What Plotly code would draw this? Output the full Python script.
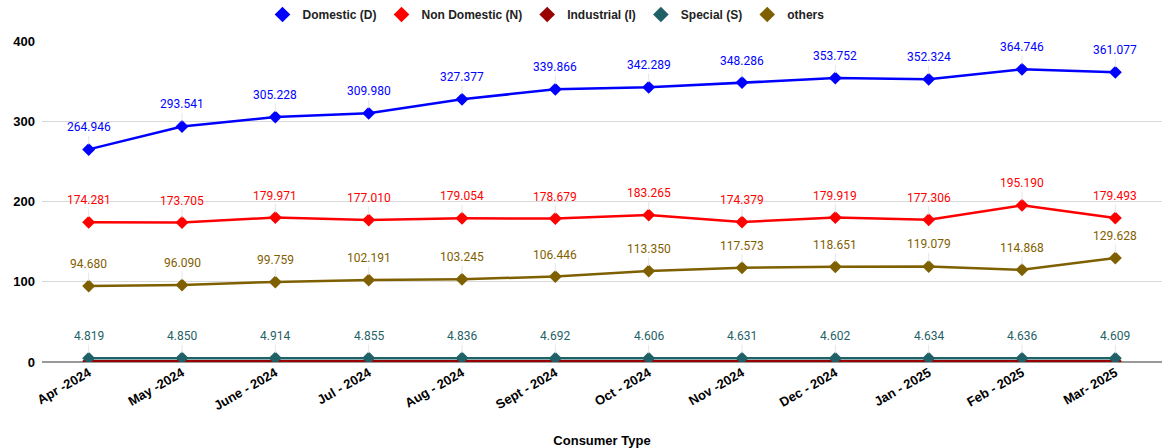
import plotly.graph_objects as go

months = ["Apr -2024", "May -2024", "June - 2024", "Jul - 2024", "Aug - 2024", "Sept - 2024",
          "Oct - 2024", "Nov -2024", "Dec - 2024", "Jan - 2025", "Feb - 2025", "Mar- 2025"]
domestic = [264.946, 293.541, 305.228, 309.980, 327.377, 339.866, 342.289, 348.286, 353.752, 352.324, 364.746, 361.077]
non_domestic = [174.281, 173.705, 179.971, 177.010, 179.054, 178.679, 183.265, 174.379, 179.919, 177.306, 195.190, 179.493]
industrial = [1.0, 1.0, 1.0, 1.0, 1.0, 1.0, 1.0, 1.0, 1.0, 1.0, 1.0, 1.0]
special = [4.819, 4.850, 4.914, 4.855, 4.836, 4.692, 4.606, 4.631, 4.602, 4.634, 4.636, 4.609]
others = [94.680, 96.090, 99.759, 102.191, 103.245, 106.446, 113.350, 117.573, 118.651, 119.079, 114.868, 129.628]

series = [
    ("Domestic (D)", domestic, "#0000FF", True),
    ("Non Domestic (N)", non_domestic, "#FF0000", True),
    ("Industrial (I)", industrial, "#990000", False),
    ("Special (S)", special, "#1F6166", True),
    ("others", others, "#7F6000", True),
]

x = list(range(len(months)))
fig = go.Figure()
annotations = []
for name, vals, color, lab in series:
    fig.add_trace(go.Scatter(
        x=x, y=vals, name=name, mode="lines+markers", showlegend=False,
        line=dict(color=color, width=2.5),
        marker=dict(symbol="diamond", size=10, color=color),
    ))
    fig.add_trace(go.Scatter(
        x=[None], y=[None], name=name, mode="markers", showlegend=True,
        marker=dict(symbol="diamond", size=12, color=color),
    ))
    if lab:
        for xi, v in zip(x, vals):
            annotations.append(dict(
                x=xi, y=v, xref="x", yref="y", text=f"{v:.3f}", showarrow=True,
                ax=0, ay=-22, arrowhead=0, arrowwidth=1, arrowcolor="#E6E6E6", standoff=5,
                font=dict(family="Roboto", size=12, color=color),
            ))

bold = dict(family="Arial, Liberation Sans", color="#000000", weight="bold")
fig.update_layout(
    width=1162, height=448,
    margin=dict(l=42, r=0, t=41, b=86),
    paper_bgcolor="white", plot_bgcolor="white",
    showlegend=True,
    legend=dict(orientation="h", x=0.45, xanchor="center", y=1.0, yanchor="top",
                yref="container",
                font=dict(family="Arial, Liberation Sans", size=12, color="#222222", weight="bold"),
                itemwidth=30, tracegroupgap=0),
    annotations=annotations,
    xaxis=dict(
        tickmode="array", tickvals=x, ticktext=months, tickangle=-30, automargin=False,
        range=[-0.5, 11.5], showgrid=False, zeroline=False, showline=False,
        tickfont=dict(size=13, **bold),
        title=dict(text="Consumer Type", standoff=30, font=dict(size=13, **bold)),
    ),
    yaxis=dict(
        range=[0, 400], tickvals=[0, 100, 200, 300, 400], showgrid=True, automargin=False,
        gridcolor="#D9D9D9", gridwidth=1, zeroline=True, zerolinecolor="#999999", zerolinewidth=2,
        tickfont=dict(size=13, **bold),
        ticks="", ticklabelstandoff=6,
    ),
)
fig.write_html("out.html", config={"displayModeBar": False},
               post_script="document.body.style.margin='0';")
